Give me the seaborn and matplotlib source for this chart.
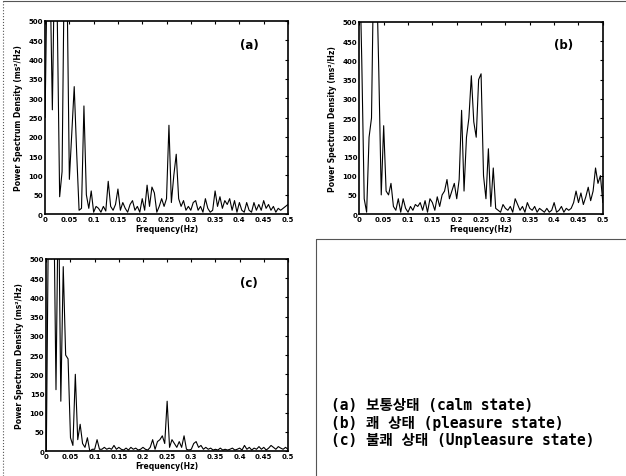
import matplotlib
matplotlib.use("Agg")
import matplotlib.pyplot as plt
from matplotlib.lines import Line2D
import seaborn as sns
import numpy as np
import pandas as pd

# frequency grid (Hz), 0.005 Hz step
freq = np.round(np.arange(0, 101) * 0.005, 3)

psd_calm = [
    250, 700, 650, 270, 700, 520, 45, 110, 700, 620,
    90, 210, 330, 160, 10, 15, 280, 50, 15, 60,
    5, 20, 15, 5, 20, 8, 85, 20, 10, 25,
    65, 10, 30, 15, 5, 25, 35, 10, 20, 5,
    40, 10, 75, 20, 70, 55, 5, 20, 40, 20,
    40, 230, 30, 100, 155, 40, 20, 35, 10, 20,
    10, 30, 35, 10, 20, 5, 40, 15, 5, 10,
    60, 20, 45, 15, 35, 25, 40, 10, 35, 5,
    30, 10, 5, 30, 10, 5, 30, 10, 25, 10,
    35, 15, 25, 10, 20, 5, 15, 10, 15, 20,
    25,
]

psd_pleasure = [
    700, 400, 40, 5, 200, 250, 700, 650, 370, 50,
    230, 60, 50, 80, 20, 10, 40, 5, 40, 15,
    5, 20, 10, 25, 20, 30, 10, 35, 5, 40,
    30, 10, 45, 20, 50, 60, 90, 40, 60, 80,
    40, 90, 270, 60, 200, 250, 360, 240, 200, 350,
    365, 100, 40, 170, 20, 120, 15, 10, 5, 25,
    15, 10, 20, 5, 40, 25, 10, 20, 5, 30,
    15, 10, 20, 5, 15, 10, 5, 15, 5, 10,
    30, 5, 10, 20, 5, 15, 10, 15, 30, 60,
    30, 55, 25, 45, 70, 35, 60, 120, 80, 100,
    30,
]

psd_unpleasure = [
    0, 700, 500, 700, 160, 700, 130, 480, 250, 240,
    35, 15, 200, 30, 70, 20, 10, 35, 0, 5,
    5, 30, 5, 5, 10, 5, 8, 5, 15, 5,
    10, 5, 3, 8, 3, 10, 5, 8, 3, 5,
    10, 5, 3, 10, 30, 5, 25, 30, 40, 20,
    130, 10, 30, 20, 10, 25, 10, 40, 5, 3,
    5, 20, 25, 10, 15, 5, 10, 5, 8, 3,
    5, 3, 8, 3, 5, 3, 5, 8, 3, 5,
    8, 3, 15, 5, 10, 3, 8, 5, 12, 5,
    10, 3, 8, 15, 10, 5, 12, 8, 5, 10,
    5,
]

panel_tags = ["(a)", "(b)", "(c)"]
x_ticks = [0, 0.05, 0.1, 0.15, 0.2, 0.25, 0.3, 0.35, 0.4, 0.45, 0.5]
x_tick_labels = ["0", "0.05", "0.1", "0.15", "0.2", "0.25", "0.3", "0.35", "0.4", "0.45", "0.5"]
y_ticks = [0, 50, 100, 150, 200, 250, 300, 350, 400, 450, 500]
legend_lines = [
    "(a) 보통상태 (calm state)",
    "(b) 쾌 상태 (pleasure state)",
    "(c) 불쾌 상태 (Unpleasure state)",
]

sns.set_style("white")
plt.rcParams["font.family"] = ["DejaVu Sans"]
plt.rcParams["text.color"] = "black"
plt.rcParams["axes.labelcolor"] = "black"
plt.rcParams["xtick.color"] = "black"
plt.rcParams["ytick.color"] = "black"

fig = plt.figure(figsize=(6.26, 4.77), dpi=100)
positions = [
    [0.072, 0.549, 0.388, 0.405],
    [0.574, 0.549, 0.389, 0.403],
    [0.074, 0.052, 0.386, 0.403],
]
series = [psd_calm, psd_pleasure, psd_unpleasure]

for pos, vals, tag in zip(positions, series, panel_tags):
    ax = fig.add_axes(pos)
    df = pd.DataFrame({"freq": freq, "psd": vals})
    sns.lineplot(data=df, x="freq", y="psd", ax=ax, color="black", linewidth=0.8)
    ax.set_xlim(0, 0.5)
    ax.set_ylim(0, 500)
    ax.set_xticks(x_ticks)
    ax.set_xticklabels(x_tick_labels)
    ax.set_yticks(y_ticks)
    ax.tick_params(direction="in", length=2.5, width=0.8, top=True, right=True,
                   labelsize=5, pad=1.5)
    for lab in ax.get_xticklabels() + ax.get_yticklabels():
        lab.set_fontweight("bold")
    for s in ax.spines.values():
        s.set_color("black")
        s.set_linewidth(1.2)
    ax.set_xlabel("Frequency(Hz)", fontsize=5.5, fontweight="bold", labelpad=1)
    ax.set_ylabel("Power Spectrum Density (ms²/Hz)", fontsize=5.5,
                  fontweight="bold", labelpad=4)
    ax.text(0.84, 0.88, tag, transform=ax.transAxes, fontsize=8.5,
            fontweight="bold", ha="center", va="center")

# scanned frame lines
frame_kw = dict(color="#555555", linewidth=0.8, transform=fig.transFigure)
fig.add_artist(Line2D([0.005, 0.005], [0.0, 0.995], linestyle=":", **frame_kw))
fig.add_artist(Line2D([0.005, 1.0], [0.995, 0.995], **frame_kw))
fig.add_artist(Line2D([0.505, 1.0], [0.497, 0.497], **frame_kw))
fig.add_artist(Line2D([0.505, 0.505], [0.0, 0.497], **frame_kw))

for i, line in enumerate(legend_lines):
    fig.text(0.528, 0.150 - i * 0.037, line, fontsize=10.5, fontweight="bold",
             family=["DejaVu Sans Mono", "Noto Sans CJK KR"], va="center", ha="left")

fig.savefig("out.png", dpi=100)
